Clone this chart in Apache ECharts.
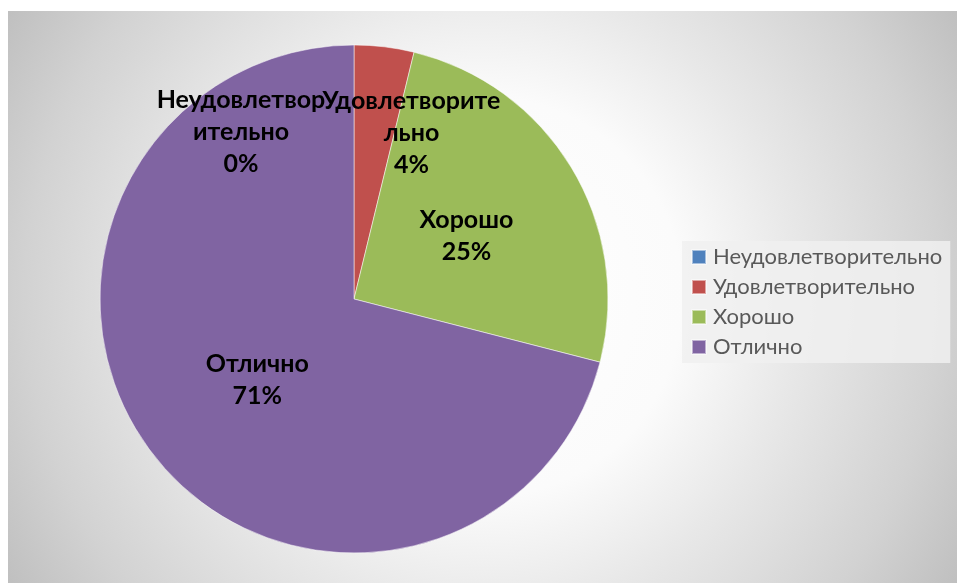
<!DOCTYPE html>
<html>
<head>
<meta charset="utf-8">
<script src="https://cdn.jsdelivr.net/npm/echarts@6/dist/echarts.min.js"></script>
<style>
	html, body { margin: 0; padding: 0; background: #fff; }
	#pie-a { width: 957px; height: 583px; }
</style>
</head>
<body>
<div id="pie-a"></div>
<script>
// данные
var categories = ['Неудовлетворительно', 'Удовлетворительно', 'Хорошо', 'Отлично'];
var values = [0, 3.8, 25.2, 71.0];
var labelTexts = ['Неудовлетвор\nительно', 'Удовлетворите\nльно', 'Хорошо', 'Отлично'];
var colors = ['#4f81bd', '#c0504d', '#9bbb59', '#8064a2'];
// подписи первых двух сдвинуты, как в Excel
var labelOffsets = [[-113, -37], [42, -37], [1, 4], [6, 1]];

var pieChart = echarts.init(document.getElementById('pie-a'));

var seriesData = categories.map(function(name, i) {
	return {
		name: name,
		value: values[i],
		label: { offset: labelOffsets[i] }
	};
});

var option = {
	animation: false,
	color: colors,
	graphic: [{
		type: 'rect',
		z: -10,
		silent: true,
		shape: { x: 8, y: 11, width: 949, height: 572 },
		style: {
			fill: {
				type: 'radial', x: 0.5, y: 0.5, r: 1,
				colorStops: [
					{ offset: 0, color: '#ffffff' },
					{ offset: 0.35, color: '#fbfbfb' },
					{ offset: 0.55, color: '#e8e8e8' },
					{ offset: 0.8, color: '#d2d2d2' },
					{ offset: 1, color: '#bcbcbc' }
				]
			}
		}
	}],
	legend: {
		orient: 'vertical',
		left: 682,
		top: 241,
		itemWidth: 14,
		itemHeight: 14,
		itemGap: 8,
		icon: 'rect',
		padding: [5, 8, 5, 9],
		backgroundColor: 'rgba(240,240,240,0.85)',
		textStyle: {
			fontFamily: 'Lato',
			fontSize: 22,
			color: '#595959',
			padding: [0, 0, 0, 2]
		},
		data: categories
	},
	series: [{
		name: 'Оценки',
		type: 'pie',
		center: [354, 299],
		radius: [0, 254],
		startAngle: 90,
		clockwise: true,
		itemStyle: {
			borderColor: 'rgba(255,255,255,0.5)',
			borderWidth: 1
		},
		label: {
			show: true,
			position: 'inside',
			fontFamily: 'Lato',
			fontWeight: 'bold',
			fontSize: 25,
			lineHeight: 32,
			color: '#000',
			formatter: function(p) {
				return labelTexts[p.dataIndex] + '\n' + Math.round(p.percent) + '%';
			}
		},
		labelLayout: { hideOverlap: false },
		labelLine: { show: false },
		emphasis: { disabled: true },
		data: seriesData
	}]
};

pieChart.setOption(option);
window.onresize = pieChart.resize;
</script>
</body>
</html>
